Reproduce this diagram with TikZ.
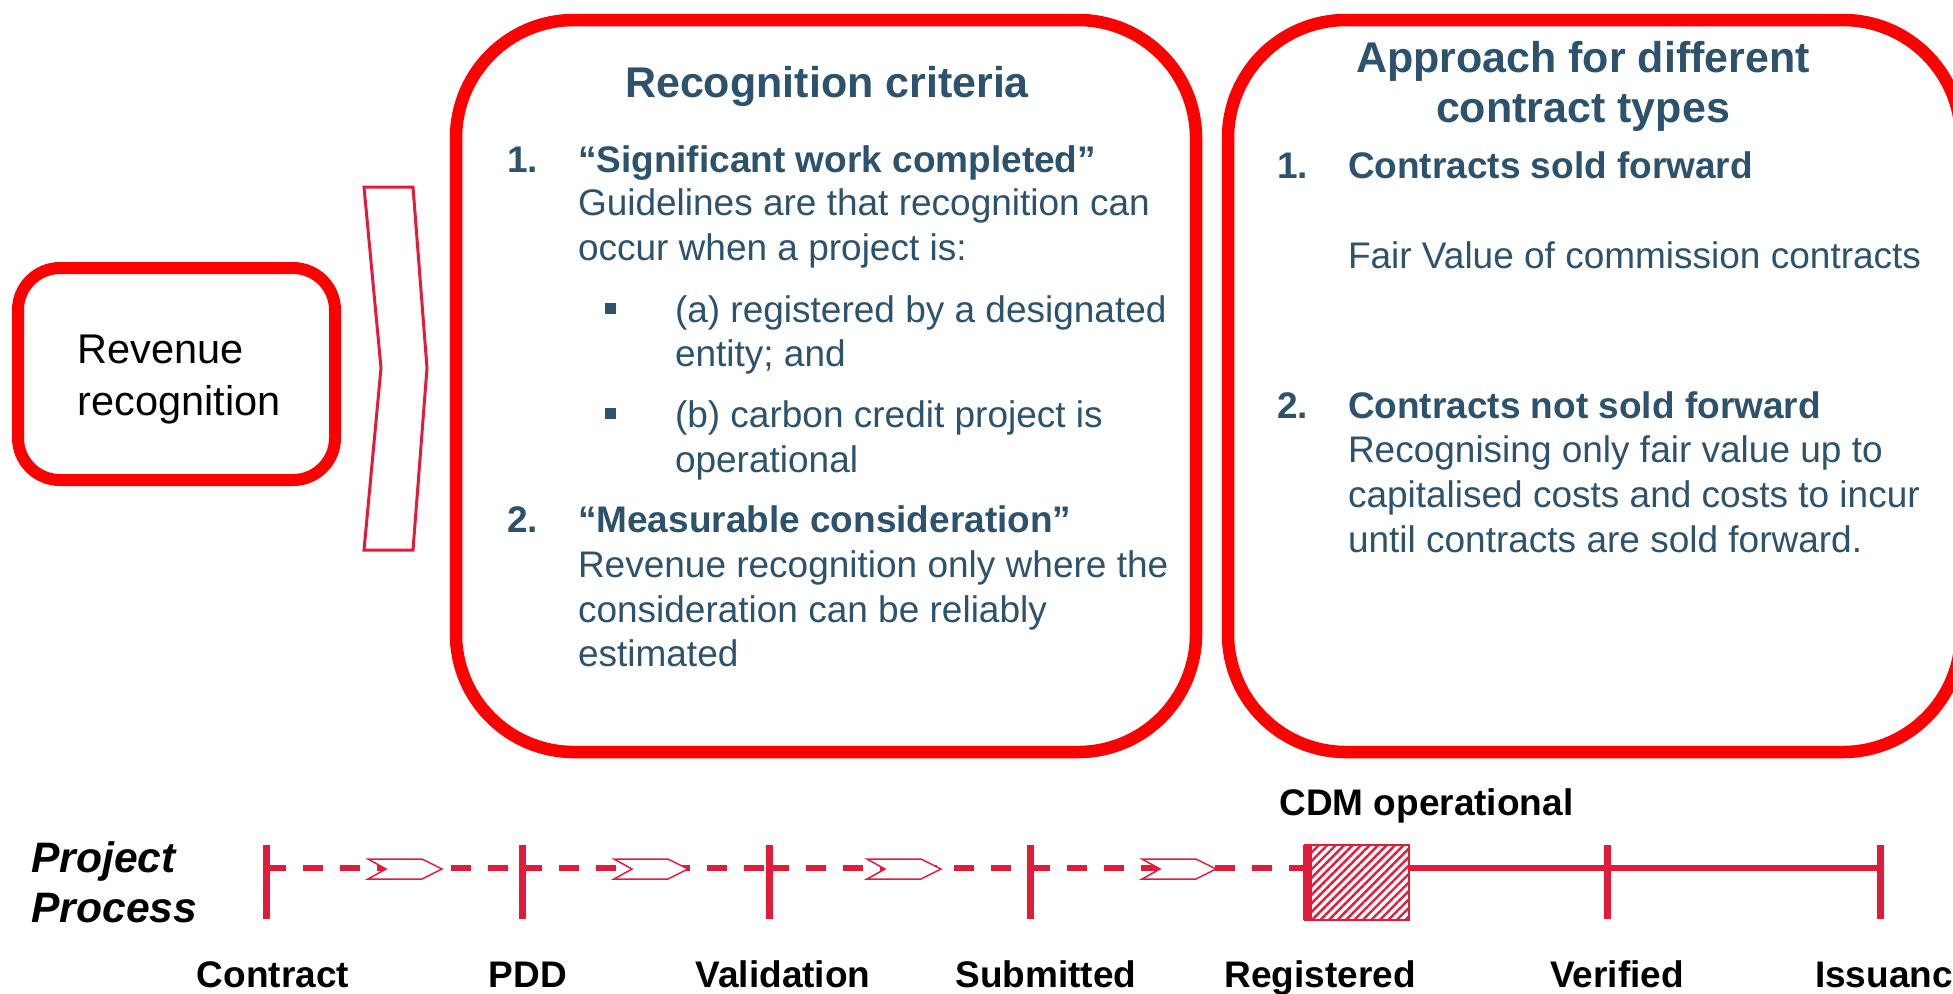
\documentclass[tikz,border=0pt]{standalone}
\usepackage{fontspec}
\setmainfont{Liberation Sans}
\usetikzlibrary{patterns.meta}
\definecolor{boxred}{RGB}{255,0,0}
\definecolor{crim}{RGB}{227,27,59}
\definecolor{txt}{RGB}{44,82,110}
\begin{document}
\begin{tikzpicture}[x=0.5pt,y=-0.5pt,
  body/.style={anchor=base west,inner sep=0,outer sep=0,text=txt,font=\fontsize{18.5pt}{22pt}\selectfont},
  bodyb/.style={body,font=\fontsize{18.5pt}{22pt}\selectfont\bfseries},
  ttl/.style={anchor=base,inner sep=0,outer sep=0,text=txt,font=\fontsize{21.5pt}{26pt}\selectfont\bfseries},
  bigbox/.style={draw=boxred,line width=6.25pt,rounded corners=59pt},
  lbl/.style={anchor=base,inner sep=0,outer sep=0,font=\fontsize{18.5pt}{22pt}\selectfont\bfseries},
  tickline/.style={draw=crim,line width=3.5pt},
  tl/.style={draw=crim,line width=3pt},
  tldash/.style={tl,dash pattern=on 10pt off 8.5pt},
  bulletsq/.style={fill=txt,inner sep=0,minimum size=5.5pt},
  chevpic/.pic={\draw[crim,line width=0.75pt,fill=white] (0,-10) -- (54,-10) -- (74,0) -- (54,10) -- (0,10) -- (18,0) -- cycle;}
]
\useasboundingbox (0,0) rectangle (1953,993);
\clip (0,0) rectangle (1953,993);

% Revenue recognition box
\draw[draw=boxred,line width=6pt,rounded corners=21pt] (18,268) rectangle (335,480);
\node[anchor=base west,inner sep=0,font=\fontsize{20.75pt}{26pt}\selectfont] (rev1) at (77,363) {Revenue};
\node[anchor=base west,inner sep=0,font=\fontsize{20.75pt}{26pt}\selectfont] (rev2) at (77,415) {recognition};

% tall chevron
\draw[crim,line width=1.5pt,fill=white] (364,187) -- (413,187) -- (427,368) -- (413,550) -- (364,550) -- (381,368) -- cycle;

% big boxes
\draw[bigbox] (456,20) rectangle (1196,752);
\draw[bigbox] (1228,20) rectangle (1961,752);

% middle box text
\node[ttl] (t1) at (827,97) {Recognition criteria};
\node[bodyb] (n1) at (507,172) {1.};
\node[bodyb] (h1) at (578,172) {“Significant work completed”};
\node[body] (l1) at (578,215) {Guidelines are that recognition can};
\node[body] (l2) at (578,260) {occur when a project is:};
\node[bulletsq] (b1) at (610,308) {};
\node[body] (l3) at (675,322) {(a) registered by a designated};
\node[body] (l4) at (675,366) {entity; and};
\node[bulletsq] (b2) at (610,413) {};
\node[body] (l5) at (675,427) {(b) carbon credit project is};
\node[body] (l6) at (675,472) {operational};
\node[bodyb] (n2) at (507,532) {2.};
\node[bodyb] (h2) at (578,532) {“Measurable consideration”};
\node[body] (l7) at (578,577) {Revenue recognition only where the};
\node[body] (l8) at (578,622) {consideration can be reliably};
\node[body] (l9) at (578,666) {estimated};

% right box text
\node[ttl] (t2a) at (1583,72) {Approach for different};
\node[ttl] (t2b) at (1583,122) {contract types};
\node[bodyb] (m1) at (1277,178) {1.};
\node[bodyb] (k1) at (1348,178) {Contracts sold forward};
\node[body] (r1) at (1348,268) {Fair Value of commission contracts};
\node[bodyb] (m2) at (1277,418) {2.};
\node[bodyb] (k2) at (1348,418) {Contracts not sold forward};
\node[body] (r2) at (1348,462) {Recognising only fair value up to};
\node[body] (r3) at (1348,507) {capitalised costs and costs to incur};
\node[body] (r4) at (1348,552) {until contracts are sold forward.};

% timeline
\node[anchor=base west,inner sep=0,font=\fontsize{21.3pt}{25pt}\selectfont\bfseries\itshape] (pp1) at (31,872) {Project};
\node[anchor=base west,inner sep=0,font=\fontsize{21.3pt}{25pt}\selectfont\bfseries\itshape] (pp2) at (31,922) {Process};
\node[anchor=base west,inner sep=0,font=\fontsize{18.5pt}{22pt}\selectfont\bfseries] (cdm) at (1279,815) {CDM operational};

\coordinate (c1) at (266,868);
\coordinate (c2) at (522,868);
\coordinate (c3) at (769,868);
\coordinate (c4) at (1030,868);
\coordinate (c5) at (1305,868);
\coordinate (c5b) at (1409,868);
\coordinate (c6) at (1607,868);
\coordinate (c7) at (1880,868);

\draw[tldash] (c1) -- (c2);
\draw[tldash] (c2) -- (c3);
\draw[tldash] (c3) -- (c4);
\draw[tldash] (c4) -- (c5);
\draw[tl] (c5b) -- (c6);
\draw[tl] (c6) -- (c7);

\pic at (368,869) {chevpic};
\pic at (614,869) {chevpic};
\pic at (867,869) {chevpic};
\pic at (1142,869) {chevpic};

\draw[crim,line width=0.75pt,pattern={Lines[angle=45,distance=3pt,line width=1.2pt]},pattern color=crim] (1305,845) rectangle (1409,920);

\draw[tickline] (266,845) -- (266,919);
\draw[tickline] (522,845) -- (522,919);
\draw[tickline] (769,845) -- (769,919);
\draw[tickline] (1030,845) -- (1030,919);
\draw[crim,line width=4.5pt] (1307,845) -- (1307,920);
\draw[tickline] (1607,845) -- (1607,919);
\draw[tickline] (1880,845) -- (1880,919);

\node[lbl] (s1) at (273,987) {Contract};
\node[lbl] (s2) at (528,987) {PDD};
\node[lbl] (s3) at (783,987) {Validation};
\node[lbl] (s4) at (1046,987) {Submitted};
\node[lbl] (s5) at (1320,987) {Registered};
\node[lbl] (s6) at (1617,987) {Verified};
\node[lbl,anchor=base west] (s7) at (1815,987) {Issuance};
\end{tikzpicture}
\end{document}
